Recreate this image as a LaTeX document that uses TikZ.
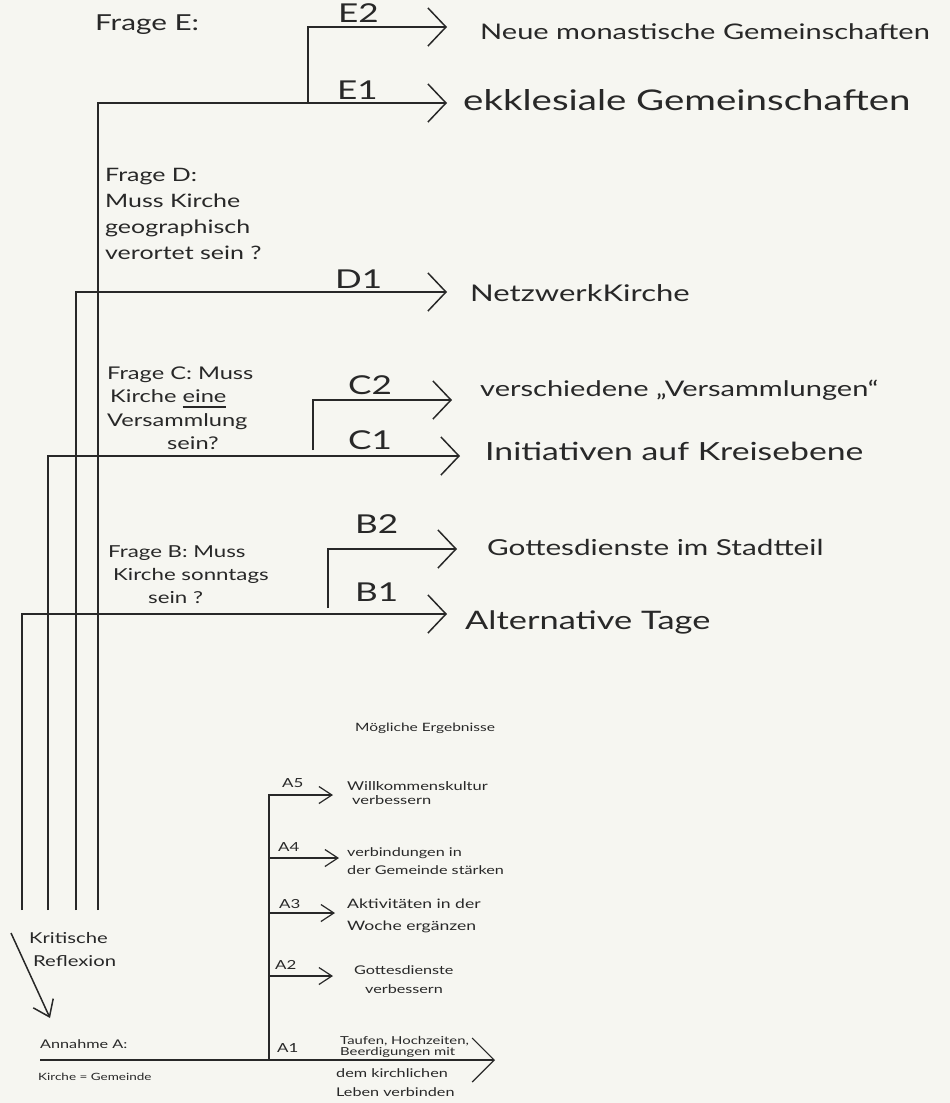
\documentclass[tikz,border=0pt]{standalone}
\usepackage{fontspec}
\setmainfont{Lato}
\newfontfamily\hand[FakeStretch=1.35]{Lato}
\usetikzlibrary{arrows.meta}
\definecolor{bg}{RGB}{246,246,241}
\definecolor{ink}{RGB}{40,40,40}
\newcommand\hf[2]{\hand\fontsize{#1}{#2}\selectfont}
\newcommand\ulword[1]{\setbox0\hbox{#1}\rlap{\rule[-5pt]{\wd0}{1.2pt}}\box0}
\begin{document}
\begin{tikzpicture}[x=1pt,y=-1pt,
  ln/.style={draw=ink, line width=1.5pt},
  sln/.style={draw=ink, line width=1.2pt},
  bigtip/.style={-{Straight Barb[length=18pt,width=38pt]}},
  atip/.style={-{Straight Barb[length=13pt,width=17pt]}},
  a1tip/.style={-{Straight Barb[length=22pt,width=44pt]}},
  dtip/.style={-{Straight Barb[length=15pt,width=22pt]}},
  txt/.style={text=ink, inner sep=0pt, anchor=west, align=left},
  lab/.style={txt, font=\hf{26}{28}},
]
\fill[bg] (0,0) rectangle (950,1103);
\useasboundingbox (0,0) rectangle (950,1103);

% coordinates
\coordinate (tB) at (22,910);
\coordinate (tC) at (48,910);
\coordinate (tD) at (76,910);
\coordinate (tE) at (98,910);
\coordinate (E1tip) at (447,103);
\coordinate (E2root) at (308,103);
\coordinate (E2tip) at (447,27);
\coordinate (D1tip) at (447,292);
\coordinate (C1tip) at (460,456);
\coordinate (C2root) at (313,450);
\coordinate (C2tip) at (452,400);
\coordinate (B1tip) at (447,614);
\coordinate (B2root) at (328,608);
\coordinate (B2tip) at (457,549);
\coordinate (Abot) at (269,1060);
\coordinate (A5tip) at (333,795);
\coordinate (A4r) at (269,858);
\coordinate (A4tip) at (339,858);
\coordinate (A3r) at (269,913);
\coordinate (A3tip) at (335,913);
\coordinate (A2r) at (269,976);
\coordinate (A2tip) at (333,976);
\coordinate (A1l) at (40,1060);
\coordinate (A1tip) at (495,1060);
\coordinate (kr1) at (11,933);
\coordinate (kr2) at (50,1018);

% trunk lines
\draw[ln,bigtip] (tE) |- (E1tip);
\draw[ln,bigtip] (E2root) |- (E2tip);
\draw[ln,bigtip] (tD) |- (D1tip);
\draw[ln,bigtip] (tC) |- (C1tip);
\draw[ln,bigtip] (C2root) |- (C2tip);
\draw[ln,bigtip] (tB) |- (B1tip);
\draw[ln,bigtip] (B2root) |- (B2tip);

% A branch
\draw[sln,atip] (Abot) |- (A5tip);
\draw[sln,atip] (A4r) -- (A4tip);
\draw[sln,atip] (A3r) -- (A3tip);
\draw[sln,atip] (A2r) -- (A2tip);
\draw[sln,a1tip] (A1l) -- (A1tip);

% critical reflection arrow
\draw[ln,dtip] (kr1) -- (kr2);

% texts E
\node[txt, font=\hf{22}{26}] (fE) at (95,25) {Frage E:};
\node[lab] (lE2) at (338,13) {E2};
\node[lab] (lE1) at (337,90) {E1};
\node[txt, font=\hf{21.5}{28}] (tE2) at (480,32) {Neue monastische Gemeinschaften};
\node[txt, font=\hf{28.5}{32}] (tE1) at (463,100) {ekklesiale Gemeinschaften};

% D
\node[txt, font=\hf{18.5}{26}] (fD) at (105,214) {Frage D:\\Muss Kirche\\geographisch\\verortet sein ?};
\node[lab] (lD1) at (335,279) {D1};
\node[txt, font=\hf{23}{28}] (tD1) at (470,293) {NetzwerkKirche};

% C
\node[txt, font=\hf{17.5}{23.5}] (fC) at (107,408) {Frage C: Muss\\\hspace*{3pt}Kirche \ulword{eine}\\Versammlung\\\hspace*{60pt}sein?};
\node[lab] (lC2) at (348,385) {C2};
\node[lab] (lC1) at (348,440) {C1};
\node[txt, font=\hf{21.5}{26}] (tC2) at (480,390) {verschiedene „Versammlungen“};
\node[txt, font=\hf{25}{28}] (tC1) at (485,451) {Initiativen auf Kreisebene};

% B
\node[txt, font=\hf{16.5}{23}] (fB) at (108,575) {Frage B: Muss\\\hspace*{5pt}Kirche sonntags\\\hspace*{40pt}sein ?};
\node[lab] (lB2) at (355,524) {B2};
\node[lab] (lB1) at (355,592) {B1};
\node[txt, font=\hf{22}{26}] (tB2) at (487,547) {Gottesdienste im Stadtteil};
\node[txt, font=\hf{25.5}{28}] (tB1) at (465,622) {Alternative Tage};

% A
\node[txt, font=\hf{11.5}{14}] (mE) at (355,728) {Mögliche Ergebnisse};
\node[txt, font=\hf{12.5}{14}] (lA5) at (282,783) {A5};
\node[txt, font=\hf{12.5}{14}] (lA4) at (278,847) {A4};
\node[txt, font=\hf{12.5}{14}] (lA3) at (279,904) {A3};
\node[txt, font=\hf{12.5}{14}] (lA2) at (275,965) {A2};
\node[txt, font=\hf{12.5}{14}] (lA1) at (277,1048) {A1};
\node[txt, font=\hf{12.2}{14.5}] (tA5) at (347,793) {Willkommenskultur\\\hspace*{5pt}verbessern};
\node[txt, font=\hf{12}{18}] (tA4) at (347,861) {verbindungen in\\der Gemeinde stärken};
\node[txt, font=\hf{13}{22}] (tA3) at (347,916) {Aktivitäten in der\\Woche ergänzen};
\node[txt, font=\hf{12}{19}] (tA2) at (354,980) {Gottesdienste\\\hspace*{11pt}verbessern};
\node[txt, font=\hf{11}{11.5}] (tA1a) at (340,1047) {Taufen, Hochzeiten,\\Beerdigungen mit};
\node[txt, font=\hf{12}{19}] (tA1b) at (336,1083) {dem kirchlichen\\Leben verbinden};

% Annahme
\node[txt, font=\hf{12}{14}] (anA) at (40,1044) {Annahme A:};
\node[txt, font=\hf{10}{12}] (kg) at (38,1077) {Kirche = Gemeinde};
\node[txt, font=\hf{15}{23}] (kr) at (29,950) {Kritische\\\hspace*{4pt}Reflexion};
\end{tikzpicture}
\end{document}
